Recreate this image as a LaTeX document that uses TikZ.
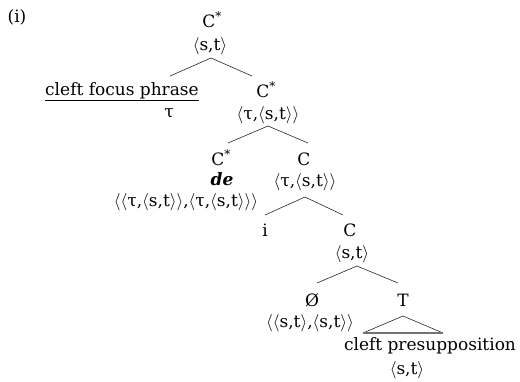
\documentclass[tikz,border=0pt]{standalone}
\usepackage{fontspec}
\setmainfont{DejaVu Serif}
\begin{document}
\begin{tikzpicture}[x=1pt,y=-1pt,
  lbl/.style={inner sep=0pt, anchor=base, font=\fontsize{17}{20}\selectfont},
  branch/.style={draw=black!85, line width=0.6pt}]
\useasboundingbox (0,0) rectangle (520,381);
\newcommand{\La}{$\langle$}
\newcommand{\Ra}{$\rangle$}
\newcommand{\Cst}{C\textsuperscript{*}}
% labels
\node[lbl] (ex) at (17,22) {(i)};
\node[lbl] (root) at (212,27) {\Cst};
\node[lbl] (roott) at (210,50) {\La s,t\Ra};
\node[lbl] (foc) at (122,95) {\underline{cleft focus phrase}};
\node[lbl] (foct) at (169,117) {τ};
\node[lbl] (cs1) at (266,97) {\Cst};
\node[lbl] (cs1t) at (268,119) {\La τ,\La s,t\Ra\Ra};
\node[lbl] (cde) at (221,165) {\Cst};
\node[lbl] (de) at (222,185) {\textbf{\textit{de}}};
\node[lbl] (det) at (186,206) {\La\La τ,\La s,t\Ra\Ra,\La τ,\La s,t\Ra\Ra\Ra};
\node[lbl] (c1) at (304,165) {C};
\node[lbl] (c1t) at (305,186) {\La τ,\La s,t\Ra\Ra};
\node[lbl] (ii) at (265,236) {i};
\node[lbl] (c2) at (350,236) {C};
\node[lbl] (c2t) at (352,258) {\La s,t\Ra};
\node[lbl] (nul) at (312,306) {Ø};
\node[lbl] (nult) at (310,327) {\La\La s,t\Ra,\La s,t\Ra\Ra};
\node[lbl] (tt) at (403,306) {T};
\node[lbl] (pre) at (430,350) {cleft presupposition};
\node[lbl] (pret) at (407,374) {\La s,t\Ra};
% branch points
\coordinate (a0) at (211,58);
\coordinate (l0) at (170,76);
\coordinate (r0) at (252,76);
\coordinate (a1) at (268,126);
\coordinate (l1) at (228,143);
\coordinate (r1) at (308,143);
\coordinate (a2) at (305,197);
\coordinate (l2) at (265,215);
\coordinate (r2) at (343,215);
\coordinate (a3) at (357,266);
\coordinate (l3) at (317,283);
\coordinate (r3) at (398,283);
\coordinate (ta) at (403,316);
\coordinate (tl) at (363,333);
\coordinate (tr) at (443,333);
\draw[branch] (l0) -- (a0) -- (r0);
\draw[branch] (l1) -- (a1) -- (r1);
\draw[branch] (l2) -- (a2) -- (r2);
\draw[branch] (l3) -- (a3) -- (r3);
\draw[branch] (tl) -- (ta) -- (tr);
\draw[draw=black!55, line width=1.2pt] (tl) -- (tr);
\end{tikzpicture}
\end{document}
